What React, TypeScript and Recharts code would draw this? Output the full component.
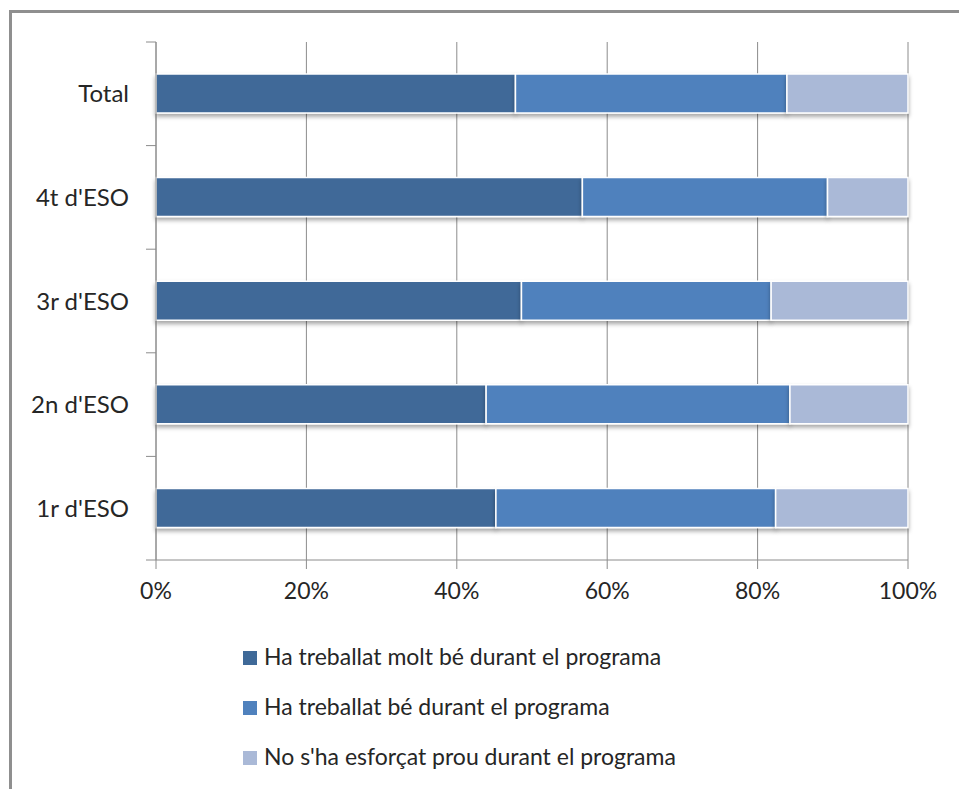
import React from "react"
import { Bar, BarChart, CartesianGrid, Legend, Rectangle, XAxis, YAxis } from "recharts"

const categories = ["Total", "4t d'ESO", "3r d'ESO", "2n d'ESO", "1r d'ESO"]
const moltBe = [47.8, 56.7, 48.6, 43.9, 45.2]
const be = [36.1, 32.6, 33.2, 40.4, 37.2]
const noEsforcat = [16.1, 10.7, 18.2, 15.7, 17.6]
const xTicks = [0, 0.2, 0.4, 0.6, 0.8, 1]

const seriesNames = [
  "Ha treballat molt bé durant el programa",
  "Ha treballat bé durant el programa",
  "No s'ha esforçat prou durant el programa",
]
const colors = ["#3F6998", "#4F81BD", "#AAB9D7"]

const data = categories.map((cat, i) => ({
  cat,
  a: moltBe[i],
  b: be[i],
  c: noEsforcat[i],
}))

const FONT = "Lato, 'Open Sans', sans-serif"
const GRID = "#8c8c8c"
const TEXT = "#262626"

const YTick = (props: any) => {
  const { x, y, payload, index } = props
  const half = payload?.offset ?? 51.8
  return (
    <g>
      <line x1={x - 10} x2={x} y1={y - half} y2={y - half} stroke={GRID} />
      {index === categories.length - 1 && (
        <line x1={x - 10} x2={x} y1={y + half} y2={y + half} stroke={GRID} />
      )}
      <text x={x - 27} y={y} dy="0.36em" textAnchor="end" fill={TEXT} fontSize={24} fontFamily={FONT}>
        {payload.value}
      </text>
    </g>
  )
}

const ShadowBar = (props: any) => <Rectangle {...props} filter="url(#barShadow)" />

// keep legend in series order (recharts sorts by value otherwise)
const LegendList = ({ payload }: any) => {
  const items = [...(payload || [])].sort(
    (p: any, q: any) => seriesNames.indexOf(p.value) - seriesNames.indexOf(q.value)
  )
  return (
    <div style={{ fontFamily: FONT, fontSize: 23, color: TEXT }}>
      {items.map((p: any) => (
        <div key={p.value} style={{ display: "flex", alignItems: "center", height: 50 }}>
          <span style={{ width: 14, height: 14, background: p.color, marginRight: 7, marginTop: 4 }} />
          <span>{p.value}</span>
        </div>
      ))}
    </div>
  )
}

export default function App() {
  return (
    <div style={{ position: "fixed", left: 0, top: 0, width: 959, height: 789, overflow: "hidden", background: "#fff" }}>
      <div
        style={{
          position: "absolute",
          left: 9,
          top: 10,
          width: 1000,
          height: 1000,
          borderLeft: "3px solid #8f8f8f",
          borderTop: "3px solid #8f8f8f",
        }}
      />
      <div style={{ position: "absolute", left: 0, top: 0 }}>
        <BarChart
          width={959}
          height={789}
          data={data}
          layout="vertical"
          stackOffset="expand"
          barSize={39}
          margin={{ top: 42, right: 51, bottom: 179, left: 0 }}
        >
          <defs>
            <filter id="barShadow" x="-5%" y="-20%" width="110%" height="160%">
              <feDropShadow dx="0" dy="3" stdDeviation="2" floodColor="#000" floodOpacity="0.35" />
            </filter>
          </defs>
          <CartesianGrid horizontal={false} stroke={GRID} />
          <XAxis
            type="number"
            domain={[0, 1]}
            ticks={xTicks}
            tickFormatter={(v: number) => `${Math.round(v * 100)}%`}
            height={50}
            tickSize={9}
            tickMargin={14}
            axisLine={{ stroke: GRID }}
            tickLine={{ stroke: GRID }}
            tick={{ fill: TEXT, fontSize: 23, fontFamily: FONT }}
          />
          <YAxis
            type="category"
            dataKey="cat"
            width={156}
            tickSize={0}
            tickMargin={0}
            axisLine={{ stroke: GRID }}
            tickLine={false}
            tick={<YTick />}
          />
          <Legend
            layout="vertical"
            align="center"
            verticalAlign="middle"
            content={<LegendList />}
            wrapperStyle={{ left: 243, top: 631, width: 600, height: 150 }}
          />
          <Bar dataKey="a" name={seriesNames[0]} stackId="s" fill={colors[0]} stroke="#fff" strokeWidth={1.5} shape={ShadowBar} isAnimationActive={false} />
          <Bar dataKey="b" name={seriesNames[1]} stackId="s" fill={colors[1]} stroke="#fff" strokeWidth={1.5} shape={ShadowBar} isAnimationActive={false} />
          <Bar dataKey="c" name={seriesNames[2]} stackId="s" fill={colors[2]} stroke="#fff" strokeWidth={1.5} shape={ShadowBar} isAnimationActive={false} />
        </BarChart>
      </div>
    </div>
  )
}
